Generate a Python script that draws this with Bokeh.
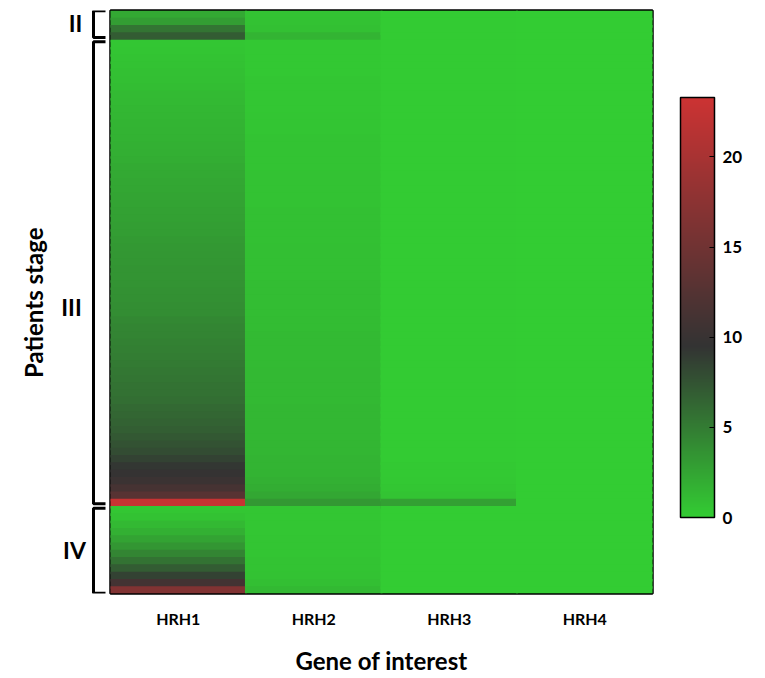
import math
from bokeh.plotting import figure
from bokeh.models import (Range1d, FactorRange, LinearColorMapper, ColorBar, FixedTicker,
                          ColumnDataSource)
from bokeh.layouts import row
from bokeh.embed import file_html
from bokeh.resources import INLINE
from bokeh.core.properties import value

# ---------------- data ----------------
genes = ["HRH1", "HRH2", "HRH3", "HRH4"]
stages = ["II", "III", "IV"]

hrh1_II = [2.2, 3.0, 5.5, 7.0]
hrh2_II = [0.6, 0.7, 0.8, 1.5]
hrh3_II = [0.1, 0.1, 0.1, 0.1]
hrh4_II = [0.0, 0.0, 0.0, 0.0]

hrh1_III = [0.4, 0.5, 0.6, 0.7, 0.8, 0.9, 1.0, 1.1,
            1.2, 1.3, 1.4, 1.5, 1.6, 1.7, 1.8, 1.9,
            2.0, 2.1, 2.2, 2.3, 2.4, 2.5, 2.6, 2.7,
            2.8, 2.9, 3.0, 3.1, 3.2, 3.3, 3.4, 3.5,
            3.5, 3.6, 3.7, 3.8, 3.9, 4.0, 4.2, 4.4,
            4.5, 4.7, 4.8, 5.0, 5.1, 5.3, 5.4, 5.6,
            5.7, 5.9, 6.1, 6.3, 6.6, 6.9, 7.2, 7.6,
            8.0, 8.6, 9.2, 9.7, 10.2, 11.2, 12.8, 22.8]
hrh2_III = [0.3, 0.3, 0.3, 0.35, 0.35, 0.4, 0.4, 0.4,
            0.45, 0.45, 0.5, 0.5, 0.5, 0.55, 0.55, 0.6,
            0.6, 0.6, 0.65, 0.65, 0.7, 0.7, 0.7, 0.75,
            0.75, 0.8, 0.8, 0.8, 0.85, 0.85, 0.9, 0.9,
            0.9, 0.95, 0.95, 1.0, 1.0, 1.0, 1.05, 1.05,
            1.1, 1.1, 1.1, 1.15, 1.15, 1.2, 1.2, 1.2,
            1.25, 1.25, 1.3, 1.3, 1.3, 1.35, 1.35, 1.4,
            1.4, 1.5, 1.5, 1.6, 1.8, 2.0, 2.3, 3.2]
hrh3_III = [0.1, 0.1, 0.1, 0.1, 0.1, 0.1, 0.1, 0.1,
            0.1, 0.1, 0.1, 0.1, 0.15, 0.15, 0.15, 0.15,
            0.15, 0.15, 0.15, 0.15, 0.15, 0.15, 0.15, 0.15,
            0.15, 0.15, 0.15, 0.15, 0.15, 0.15, 0.15, 0.15,
            0.15, 0.15, 0.15, 0.15, 0.15, 0.15, 0.15, 0.15,
            0.15, 0.15, 0.15, 0.15, 0.15, 0.15, 0.15, 0.15,
            0.15, 0.15, 0.15, 0.15, 0.15, 0.15, 0.15, 0.15,
            0.15, 0.15, 0.2, 0.2, 0.3, 0.4, 0.6, 2.8]
hrh4_III = [0.0, 0.0, 0.0, 0.0, 0.0, 0.0, 0.0, 0.0,
            0.0, 0.0, 0.0, 0.0, 0.0, 0.0, 0.0, 0.0,
            0.0, 0.0, 0.0, 0.0, 0.0, 0.0, 0.0, 0.0,
            0.0, 0.0, 0.0, 0.0, 0.0, 0.0, 0.0, 0.0,
            0.0, 0.0, 0.0, 0.0, 0.0, 0.0, 0.0, 0.0,
            0.0, 0.0, 0.0, 0.0, 0.0, 0.0, 0.0, 0.0,
            0.0, 0.0, 0.0, 0.0, 0.0, 0.0, 0.0, 0.0,
            0.0, 0.0, 0.0, 0.0, 0.0, 0.0, 0.0, 0.0]

hrh1_IV = [0.4, 0.7, 1.2, 1.8, 2.6, 3.4, 4.4, 5.6, 7.0, 8.6, 11.0, 16.5]
hrh2_IV = [0.4, 0.4, 0.45, 0.45, 0.5, 0.5, 0.5, 0.55, 0.6, 0.7, 0.9, 1.2]
hrh3_IV = [0.05, 0.05, 0.05, 0.05, 0.05, 0.05, 0.05, 0.05, 0.05, 0.05, 0.05, 0.05]
hrh4_IV = [0.0, 0.0, 0.0, 0.0, 0.0, 0.0, 0.0, 0.0, 0.0, 0.0, 0.0, 0.0]

colorbar_ticks = [0, 5, 10, 15, 20]
color_max = 23.3
color_mid = 9.5

# ---------------- build table ----------------
by_gene = {
    "HRH1": hrh1_II + hrh1_III + hrh1_IV,
    "HRH2": hrh2_II + hrh2_III + hrh2_IV,
    "HRH3": hrh3_II + hrh3_III + hrh3_IV,
    "HRH4": hrh4_II + hrh4_III + hrh4_IV,
}
stage_sizes = [len(hrh1_II), len(hrh1_III), len(hrh1_IV)]
n_rows = sum(stage_sizes)

# cells overlap the next row slightly (drawn later on top) to avoid hairline seams
EXT = 0.35
xs, ys, vs, hs = [], [], [], []
for g in genes:
    col = by_gene[g]
    for i, v in enumerate(col):
        h = 1 + EXT if i < len(col) - 1 else 1
        xs.append(g)
        ys.append(i + h / 2)
        hs.append(h)
        vs.append(v)
src = ColumnDataSource(dict(gene=xs, yc=ys, h=hs, v=vs))

# palette: green -> dark grey -> red
def mix(c1, c2, t):
    return "#%02x%02x%02x" % tuple(int(round(a + (b - a) * t)) for a, b in zip(c1, c2))

green, dark, red = (51, 204, 51), (51, 51, 51), (204, 51, 51)
palette = []
N = 256
for k in range(N):
    v = k / (N - 1) * color_max
    if v <= color_mid:
        palette.append(mix(green, dark, v / color_mid))
    else:
        palette.append(mix(dark, red, (v - color_mid) / (color_max - color_mid)))
mapper = LinearColorMapper(palette=palette, low=0, high=color_max)

FONT = "Lato"
yr = Range1d(n_rows, 0)

# ---------------- main heatmap ----------------
p = figure(width=659, height=678, x_range=FactorRange(*genes), y_range=yr,
           output_backend="svg", toolbar_location=None, y_axis_location=None,
           min_border_left=4, min_border_right=113, min_border_top=10, min_border_bottom=85)
p.rect(x="gene", y="yc", width=1.015, height="h", source=src,
       fill_color={"field": "v", "transform": mapper}, line_color=None)
p.grid.visible = False
p.outline_line_color = "black"
p.outline_line_width = 2.5
p.outline_line_alpha = 1

ax = p.xaxis[0]
ax.axis_line_color = None
ax.major_tick_line_color = None
ax.minor_tick_line_color = None
ax.major_label_standoff = 9
ax.major_label_text_font = FONT
ax.major_label_text_font_style = "bold"
ax.major_label_text_font_size = "16px"
ax.major_label_text_color = "black"
ax.axis_label = "Gene of interest"
ax.axis_label_standoff = 15
ax.axis_label_text_font = FONT
ax.axis_label_text_font_style = "bold"
ax.axis_label_text_font_size = "24px"
ax.axis_label_text_color = "black"

cb = ColorBar(color_mapper=mapper, ticker=FixedTicker(ticks=colorbar_ticks),
              width=34, height=420, location=(28, 76), padding=0, margin=0,
              major_tick_line_color="black", major_tick_in=5, major_tick_out=0,
              minor_tick_line_color=None, label_standoff=8,
              bar_line_color="black", bar_line_width=1.5,
              major_label_text_font=FONT, major_label_text_font_style="bold",
              major_label_text_font_size="17px", major_label_text_color="black",
              background_fill_alpha=0, border_line_color=None)
p.add_layout(cb, "right")

# ---------------- left annotation panel ----------------
q = figure(width=106, height=678, x_range=Range1d(0, 106), y_range=yr,
           output_backend="svg", toolbar_location=None,
           x_axis_location=None, y_axis_location=None,
           min_border_left=0, min_border_right=0, min_border_top=10, min_border_bottom=85)
q.grid.visible = False
q.outline_line_color = None

starts = [0, stage_sizes[0], stage_sizes[0] + stage_sizes[1]]
ends = [stage_sizes[0], stage_sizes[0] + stage_sizes[1], n_rows]
bx, by = [], []
gap = 0.3
for s, e in zip(starts, ends):
    t = s + gap if s > 0 else s + 0.05
    b = e - gap if e < n_rows else e - 0.05
    bx.append([105, 93, 93, 105])
    by.append([t, t, b, b])
q.multi_line(xs=bx, ys=by, line_color="black", line_width=3)

label_rows = [1.65, 40.75, 74.0]
q.text(x=[75, 71, 74], y=label_rows, text=stages, text_align="center",
       text_baseline="middle", text_font=value(FONT), text_font_style="bold",
       text_font_size="23px", text_color="black")
q.text(x=[33], y=[40.1], text=["Patients stage"], angle=math.pi / 2,
       text_align="center", text_baseline="middle", text_font=value(FONT),
       text_font_style="bold", text_font_size="24px", text_color="black")

layout = row(q, p, spacing=0)
open("out.html", "w").write(file_html(layout, INLINE))
